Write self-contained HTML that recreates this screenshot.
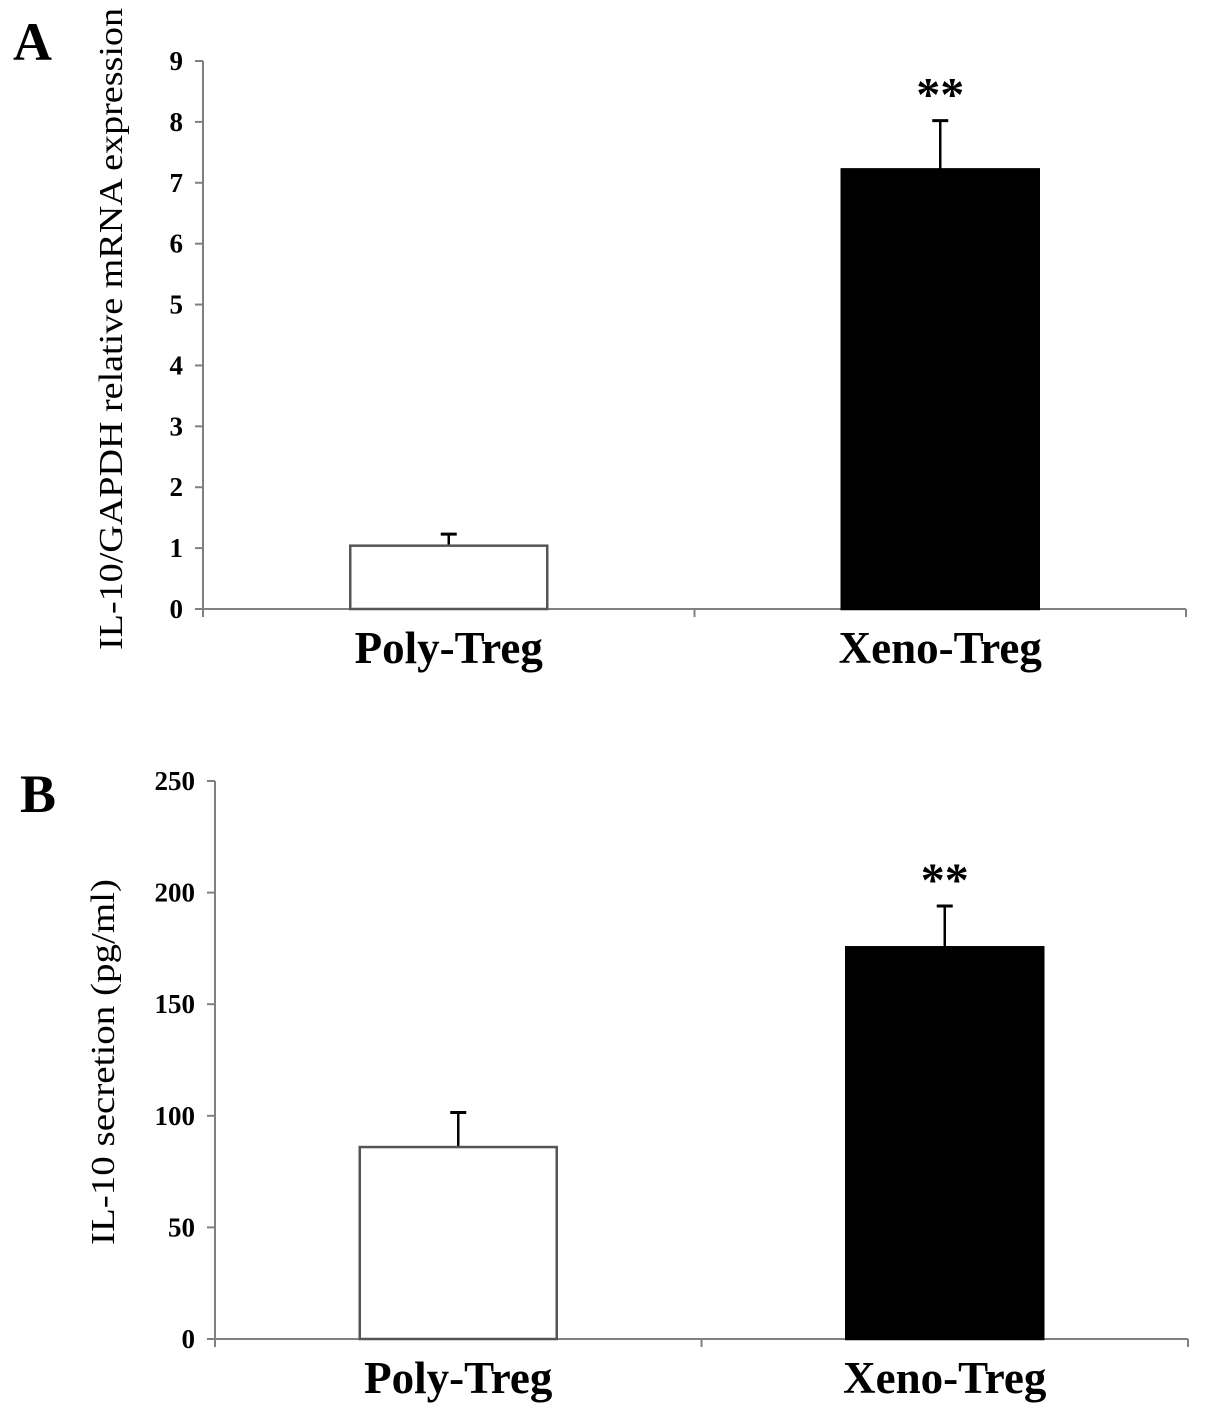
<!DOCTYPE html>
<html><head><meta charset="utf-8">
<style>
html,body{margin:0;padding:0;background:#fff;}
svg{display:block;font-family:"Liberation Serif",serif;}
</style></head>
<body>
<svg id="fig" width="1205" height="1413" viewBox="0 0 1205 1413" xmlns="http://www.w3.org/2000/svg"></svg>
<script>
const categories = ["Poly-Treg", "Xeno-Treg"];
const valuesA = [1.04, 7.22];
const errorsA = [0.19, 0.80];
const ticksA = [0,1,2,3,4,5,6,7,8,9];
const valuesB = [86, 175.5];
const errorsB = [15.5, 18.5];
const ticksB = [0,50,100,150,200,250];
const fills = ["#fff", "#000"];
const sig = ["", "**"];

const NS = "http://www.w3.org/2000/svg";
const svg = document.getElementById("fig");
function mk(tag, attrs, parent) {
  const e = document.createElementNS(NS, tag);
  for (const k in attrs) e.setAttribute(k, attrs[k]);
  (parent || svg).appendChild(e);
  return e;
}

function panel(cfg) {
  const g = mk("g", {});
  
  
  const yMax = cfg.ticks[cfg.ticks.length - 1];
  const y = v => cfg.y0 - (v / yMax) * (cfg.y0 - cfg.yTop);
  const bandW = (cfg.x1 - cfg.x0) / cfg.cats.length;
  const xc = i => cfg.x0 + bandW * (i + 0.5);

  const ya = mk("line", {x1: cfg.x0, y1: cfg.yTop, x2: cfg.x0, y2: cfg.y0 + 8, stroke: "#808080", "stroke-width": 2}, g);
  
  
  const xa = mk("line", {x1: cfg.x0 - 8, y1: cfg.y0, x2: cfg.x1, y2: cfg.y0, stroke: "#808080", "stroke-width": 2}, g);
  
  
  for (let i = 0; i <= cfg.cats.length; i++) {
    const xx = cfg.x0 + bandW * i;
    mk("line", {x1: xx, y1: cfg.y0, x2: xx, y2: cfg.y0 + 8, stroke: "#808080", "stroke-width": 2}, g);
  }
  cfg.ticks.forEach(t => {
    mk("line", {x1: cfg.x0 - 8, y1: y(t), x2: cfg.x0, y2: y(t), stroke: "#808080", "stroke-width": 2}, g);
    const tl = mk("text", {x: cfg.x0 - 20, y: y(t) + 9, "text-anchor": "end", "font-size": 27, "font-weight": "bold"}, g);
    tl.textContent = t;
    
    
  });
  cfg.cats.forEach((c, i) => {
    const bw = 197;
    const bx = xc(i) - bw / 2 + cfg.shift;
    const top = y(cfg.vals[i]);
    const et = y(cfg.vals[i] + cfg.errs[i]);
    const cx = bx + bw / 2;
    const el = mk("line", {x1: cx, y1: et, x2: cx, y2: top, stroke: "#000", "stroke-width": 2.5}, g);
    
    
    mk("line", {x1: cx - 8, y1: et, x2: cx + 8, y2: et, stroke: "#000", "stroke-width": 3}, g);
    const r = mk("rect", {x: bx, y: top, width: bw, height: cfg.y0 - top, fill: fills[i], stroke: i ? "#000" : "#555", "stroke-width": 2.5}, g);
    
    
    if (sig[i]) {
      const s = mk("text", {x: cx, y: et - 10, "text-anchor": "middle", "font-size": 48, "font-weight": "bold"}, g);
      s.textContent = sig[i];
      
      
    }
    const cl = mk("text", {x: cx, y: cfg.y0 + 54, "text-anchor": "middle", "font-size": 45, "font-weight": "bold"}, g);
    cl.textContent = c;
    
    
  });
  const yt = mk("text", {x: 0, y: 0, "text-anchor": "middle", "font-size": cfg.titleSize, textLength: cfg.titleLen, lengthAdjust: "spacingAndGlyphs", transform: "translate(" + cfg.titleX + "," + cfg.titleY + ") rotate(-90)"}, g);
  yt.textContent = cfg.title;
  
  
  const pl = mk("text", {x: cfg.letterX, y: cfg.letterY, "font-size": 54, "font-weight": "bold"}, g);
  pl.textContent = cfg.letter;
  
  
}

panel({name: "panel-a", cats: categories, vals: valuesA, errs: errorsA, ticks: ticksA,
  x0: 203, x1: 1186, y0: 609, yTop: 61, shift: 0,
  title: "IL-10/GAPDH relative mRNA expression", titleX: 122, titleY: 329, titleSize: 34, titleLen: 642,
  letter: "A", letterX: 13, letterY: 60});
panel({name: "panel-b", cats: categories, vals: valuesB, errs: errorsB, ticks: ticksB,
  x0: 215, x1: 1188, y0: 1339, yTop: 781, shift: 0,
  title: "IL-10 secretion (pg/ml)", titleX: 114, titleY: 1062, titleSize: 34, titleLen: 366,
  letter: "B", letterX: 20, letterY: 812});
</script>
</body></html>
